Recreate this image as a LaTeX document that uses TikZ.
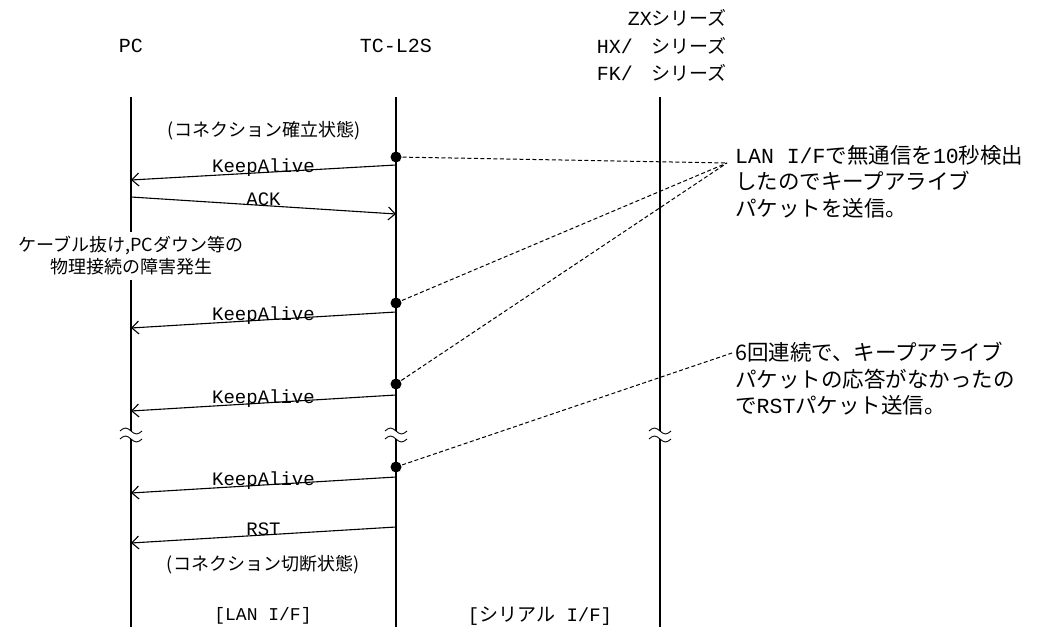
\documentclass[tikz,border=0pt]{standalone}
\usepackage{fontspec}
\setmainfont{Noto Sans CJK JP}
\newfontfamily\lat{Liberation Mono}
\usetikzlibrary{arrows.meta}
\newcommand{\fsz}[2]{\fontsize{#1}{#2}\selectfont}

\begin{document}
\begin{tikzpicture}[x=1pt,y=-1pt,>={Straight Barb[length=7pt,width=13pt]},
  life/.style={line width=1.1pt},
  msg/.style={line width=1.1pt,->},
  lbl/.style={font=\lat\fsz{19}{19},inner sep=1pt,anchor=base},
  note/.style={font=\fsz{18}{22},align=center,inner sep=1pt},
  ann/.style={font=\fsz{21.5}{26.5},align=left,anchor=west,inner sep=0pt},
  hd/.style={font=\fsz{19}{27.5},inner sep=0pt},
  lead/.style={line width=1pt,dash pattern=on 4pt off 2.5pt}]
\useasboundingbox (0,0) rectangle (1047,637);

% lifelines with break marks
\foreach \n/\x in {pc/131,tc/396,zx/660}{
  \coordinate (\n top) at (\x,97);
  \coordinate (\n bot) at (\x,627);
  \coordinate (\n brk1) at (\x,431);
  \coordinate (\n brk2) at (\x,439);
}
\foreach \n in {pc,tc,zx}{
  \draw[life] (\n top)--(\n brk1) (\n brk2)--(\n bot);
  \draw[line width=0.9pt] ([xshift=-11pt]\n brk1) sin ++(5.5,-3) cos ++(5.5,3) sin ++(5.5,3) cos ++(5.5,-3);
  \draw[line width=0.9pt] ([xshift=-11pt]\n brk2) sin ++(5.5,-3) cos ++(5.5,3) sin ++(5.5,3) cos ++(5.5,-3);
}

% headers
\node[hd,font=\lat\fsz{20}{20}] (pc) at (131,46) {PC};
\node[hd,font=\lat\fsz{20}{20}] (tc) at (396,46) {TC-L2S};
\node[hd,align=right,anchor=east] (zx) at (727,45.5)
  {{\lat\fsz{20}{27.5}ZX}シリーズ\\{\lat\fsz{20}{27.5}HX/}　シリーズ\\{\lat\fsz{20}{27.5}FK/}　シリーズ};

% messages
\coordinate (k1s) at (396,165); \coordinate (k1e) at (131,180);
\coordinate (acks) at (131,197); \coordinate (acke) at (396,214);
\coordinate (k2s) at (396,312); \coordinate (k2e) at (131,328);
\coordinate (k3s) at (396,395); \coordinate (k3e) at (131,411);
\coordinate (k4s) at (396,477); \coordinate (k4e) at (131,493);
\coordinate (rsts) at (396,527); \coordinate (rste) at (131,543);

\draw[msg] (k1s)--(k1e) node[lbl,midway] {KeepAlive};
\draw[msg] (acks)--(acke) node[lbl,midway] {ACK};
\draw[msg] (k2s)--(k2e) node[lbl,midway] {KeepAlive};
\draw[msg] (k3s)--(k3e) node[lbl,midway] {KeepAlive};
\draw[msg] (k4s)--(k4e) node[lbl,midway] {KeepAlive};
\draw[msg] (rsts)--(rste) node[lbl,midway] {RST};

% states
\node[note] (est) at (264,131) {(コネクション確立状態)};
\node[note,fill=white,inner sep=5pt] (fault) at (131,256)
  {ケーブル抜け,PCダウン等の\\物理接続の障害発生};
\node[note] (cut) at (263,565) {(コネクション切断状態)};

% annotations
\node[ann] (note1) at (735,181.5)
  {{\lat LAN I/F}で無通信を{\lat 10}秒検出\\したのでキープアライブ\\パケットを送信。};
\node[ann] (note2) at (735,379)
  {6回連続で、キープアライブ\\パケットの応答がなかったの\\で{\lat RST}パケット送信。};

\coordinate (d1) at (396,157);
\coordinate (d2) at (396,303);
\coordinate (d3) at (396,384);
\coordinate (d4) at (396,467);
\coordinate (a1) at (727,163);
\coordinate (a2) at (732,353);

\draw[lead] (d1)--(a1);
\draw[lead] (d2)--(a1);
\draw[lead] (d3)--(a1);
\draw[lead] (d4)--(a2);
\foreach \d in {d1,d2,d3,d4}
  \fill (\d) circle (5.5pt);

% interfaces
\node[hd,font=\lat\fsz{18}{18}] (lan) at (263,616) {[LAN I/F]};
\node[hd] (ser) at (540,616) {{\lat[}シリアル{\lat\ I/F]}};
\end{tikzpicture}
\end{document}
